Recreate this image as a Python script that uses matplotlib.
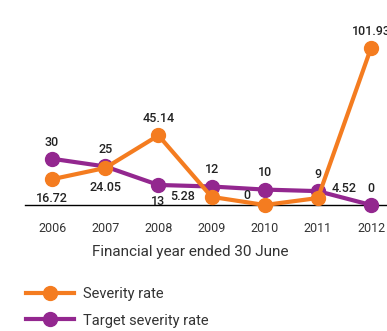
import matplotlib
matplotlib.use("Agg")
from matplotlib import pyplot as plt

plt.rcParams['font.family'] = ['Roboto', 'DejaVu Sans']

years = [2006, 2007, 2008, 2009, 2010, 2011, 2012]
severity = [16.72, 24.05, 45.14, 5.28, 0, 4.52, 101.93]
target = [30, 25, 13, 12, 10, 9, 0]
severity_labels = ['16.72', '24.05', '45.14', '5.28', '0', '4.52', '101.93']
target_labels = ['30', '25', '13', '12', '10', '9', '0']

orange = '#F47C20'
purple = '#93278F'
txt = '#222222'

fig = plt.figure(figsize=(3.87, 3.31), dpi=100)
ax = fig.add_axes([25 / 387, 126 / 331, 362 / 387, 205 / 331])

ax.plot(years, target, color=purple, lw=3, marker='o', ms=10, clip_on=False,
        label='Target severity rate', zorder=3)
ax.plot(years, severity, color=orange, lw=3, marker='o', ms=10, clip_on=False,
        label='Severity rate', zorder=4)

# label offsets in points (dx, dy) and alignment
sev_off = [(0, -14, 'center'), (0, -14, 'center'), (0, 12, 'center'),
           (-12, 0, 'right'), (-10, 7, 'right'), (10, 7, 'left'), (0, 12, 'center')]
tgt_off = [(0, 12, 'center'), (0, 12, 'center'), (0, -12, 'center'),
           (0, 12, 'center'), (0, 12, 'center'), (0, 12, 'center'), (0, 12, 'center')]

for x, y, s, (dx, dy, ha) in zip(years, severity, severity_labels, sev_off):
    ax.annotate(s, (x, y), xytext=(dx, dy), textcoords='offset points',
                ha=ha, va='center', fontsize=9, color=txt, fontweight='medium')
for x, y, s, (dx, dy, ha) in zip(years, target, target_labels, tgt_off):
    ax.annotate(s, (x, y), xytext=(dx, dy), textcoords='offset points',
                ha=ha, va='center', fontsize=9, color=txt, fontweight='medium')

ax.set_xlim(2005.49, 2012.30)
ax.set_ylim(0, 133)
ax.set_xticks(years)
ax.set_xticklabels([str(y) for y in years], fontsize=9, color='#333333')
ax.tick_params(axis='x', length=0, pad=12)
ax.set_yticks([])
for side in ['top', 'right', 'left']:
    ax.spines[side].set_visible(False)
ax.spines['bottom'].set_linewidth(1)
ax.spines['bottom'].set_color('black')
ax.set_xlabel('Financial year ended 30 June', fontsize=11, color='#333333')
ax.xaxis.set_label_coords((190 - 25) / 362, -(245 - 205) / 205)

handles, labels = ax.get_legend_handles_labels()
fig.legend(handles[::-1], labels[::-1], loc='upper left',
           bbox_to_anchor=(13 / 387, 1 - 274 / 331), frameon=False,
           fontsize=10.5, handlelength=3.3, handletextpad=0.6, labelspacing=0.85,
           labelcolor='#333333')

fig.savefig('out.png', dpi=100)
